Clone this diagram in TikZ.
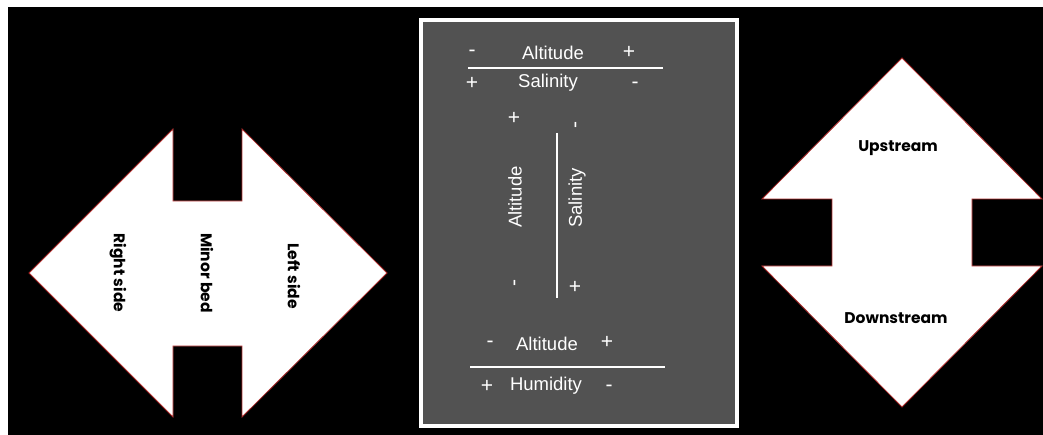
\documentclass[tikz,border=0pt]{standalone}
\usepackage{fontspec}
\setmainfont{Liberation Sans}
\newfontfamily\gothic{Poppins}
\definecolor{arrowred}{RGB}{170,40,40}
\definecolor{boxgray}{RGB}{82,82,82}
\begin{document}
\begin{tikzpicture}[x=1pt,y=-1pt,
  arrowshape/.style={fill=white,draw=arrowred,line width=0.8pt,line join=miter},
  lbl/.style={font=\gothic\bfseries\fontsize{15.5}{17}\selectfont,text=black,inner sep=0pt},
  gtxt/.style={font=\fontsize{18.5}{20}\selectfont,text=white,inner sep=0pt},
  sgn/.style={font=\fontsize{21}{22}\selectfont,text=white,inner sep=0pt},
  wline/.style={draw=white,line width=2pt}]
\fill[white] (0,0) rectangle (1043,435);
\fill[black] (8,7) rectangle (1043,435);
\useasboundingbox (0,0) rectangle (1043,435);
% left double arrow
\filldraw[arrowshape] (29,273) -- (173,129) -- (173,201) -- (242,201) -- (242,129)
  -- (387,273) -- (242,417) -- (242,346) -- (173,346) -- (173,417) -- cycle;
\node[lbl,rotate=-90] (rside) at (118,273) {Right side};
\node[lbl,rotate=-90] (minor) at (207,273) {Minor bed};
\node[lbl,rotate=-90] (lside) at (294,276) {Left side};
% right double arrow
\filldraw[arrowshape] (902,58) -- (1042,199) -- (972,199) -- (972,266) -- (1042,266)
  -- (902,407) -- (762,266) -- (832,266) -- (832,199) -- (762,199) -- cycle;
\node[lbl] (up) at (898,148) {Upstream};
\node[lbl] (down) at (896,318) {Downstream};
% middle box
\node[draw=white,fill=boxgray,line width=4pt,minimum width=316pt,minimum height=406pt,inner sep=0pt] (box) at (579,223) {};
% top block
\node[sgn] (m1) at (472,53) {-};
\node[gtxt] (alt1) at (553,53) {Altitude};
\node[sgn] (p1) at (629,52) {+};
\draw[wline] (468,68) -- (663,68);
\node[sgn] (p2) at (472,83) {+};
\node[gtxt] (sal1) at (548,83) {Salinity};
\node[sgn] (m2) at (635,85) {-};
% vertical block
\node[sgn] (p3) at (514,118) {+};
\node[sgn,rotate=90] (m3) at (578,125) {-};
\draw[wline] (557,133) -- (557,298);
\node[gtxt,rotate=90] (alt2) at (515,197) {Altitude};
\node[gtxt,rotate=90] (sal2) at (577,198) {Salinity};
\node[sgn,rotate=90] (m4) at (517,283) {-};
\node[sgn] (p4) at (575,287) {+};
% bottom block
\node[sgn] (m5) at (490,344) {-};
\node[gtxt] (alt3) at (547,344) {Altitude};
\node[sgn] (p5) at (607,342) {+};
\draw[wline] (470,367) -- (665,367);
\node[sgn] (p6) at (487,386) {+};
\node[gtxt] (hum) at (546,386) {Humidity};
\node[sgn] (m6) at (609,388) {-};
\end{tikzpicture}
\end{document}
